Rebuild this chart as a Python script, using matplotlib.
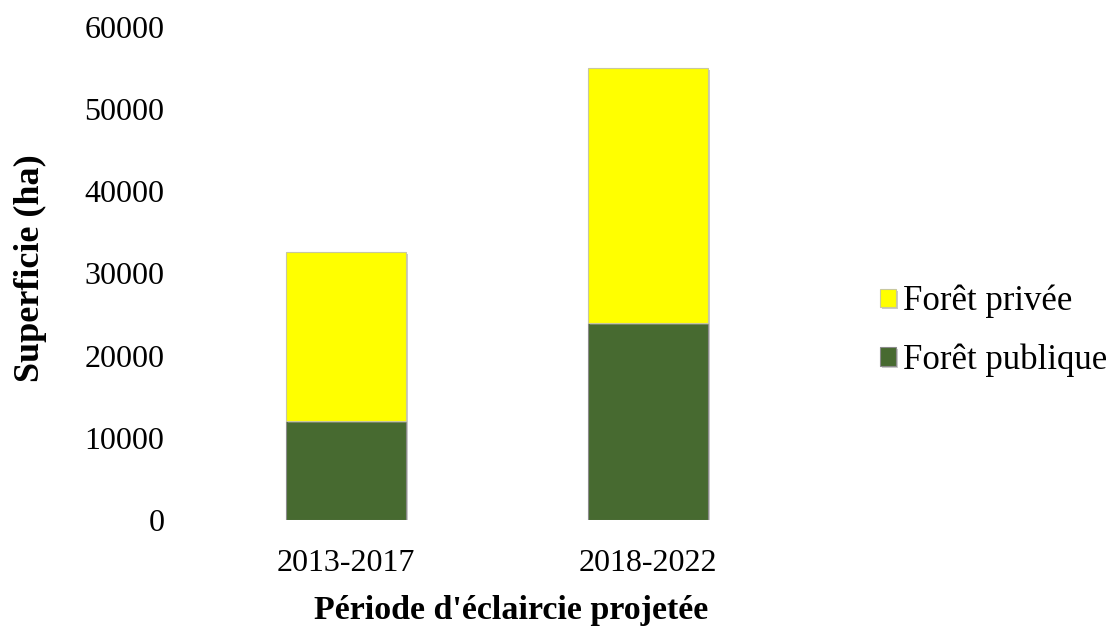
import matplotlib
matplotlib.use("Agg")
import matplotlib.pyplot as plt
import matplotlib.patheffects as pe

periods = ["2013-2017", "2018-2022"]
foret_publique = [12100, 24000]
foret_privee = [20500, 31000]
y_ticks = [0, 10000, 20000, 30000, 40000, 50000, 60000]

col_public = "#476A30"
col_prive = "#FFFF00"

plt.rcParams["font.family"] = ["Liberation Serif", "DejaVu Serif"]

fig = plt.figure(figsize=(11.17, 6.26), dpi=100)
ax = fig.add_axes([0.1746, 0.1693, 0.5407, 0.7879])

x = list(range(len(periods)))
shadow = [pe.SimplePatchShadow(offset=(1.5, -1.5), shadow_rgbFace="#999999", alpha=0.5), pe.Normal()]

b1 = ax.bar(x, foret_publique, width=0.4, color=col_public, edgecolor="#8a8a8a",
            linewidth=0.8, label="Forêt publique", zorder=2)
b2 = ax.bar(x, foret_privee, width=0.4, bottom=foret_publique, color=col_prive,
            edgecolor="#c8c8a0", linewidth=0.8, label="Forêt privée", zorder=2)
for r in list(b1) + list(b2):
    r.set_path_effects(shadow)

ax.set_xlim(-0.5, 1.5)
ax.set_ylim(0, 60000)
ax.set_yticks(y_ticks)
ax.set_yticklabels([str(v) for v in y_ticks])
ax.set_xticks(x)
ax.set_xticklabels(periods)
ax.tick_params(axis="both", length=0, labelsize=23)
ax.tick_params(axis="y", pad=22)
ax.tick_params(axis="x", pad=21)
for s in ax.spines.values():
    s.set_visible(False)

ax.set_ylabel("Superficie (ha)", fontsize=26, fontweight="bold")
ax.yaxis.set_label_coords(-0.245, 0.51)
ax.set_xlabel("Période d'éclaircie projetée", fontsize=24.5, fontweight="bold")
ax.xaxis.set_label_coords(0.523, -0.152)

handles = [b2, b1]
leg = fig.legend(handles, ["Forêt privée", "Forêt publique"], loc="upper left",
                 bbox_to_anchor=(0.788, 0.545), frameon=False, fontsize=25,
                 handlelength=0.45, handleheight=0.45, handletextpad=0.2,
                 labelspacing=0.72, borderpad=0, borderaxespad=0)

fig.savefig("out.png", dpi=100)
